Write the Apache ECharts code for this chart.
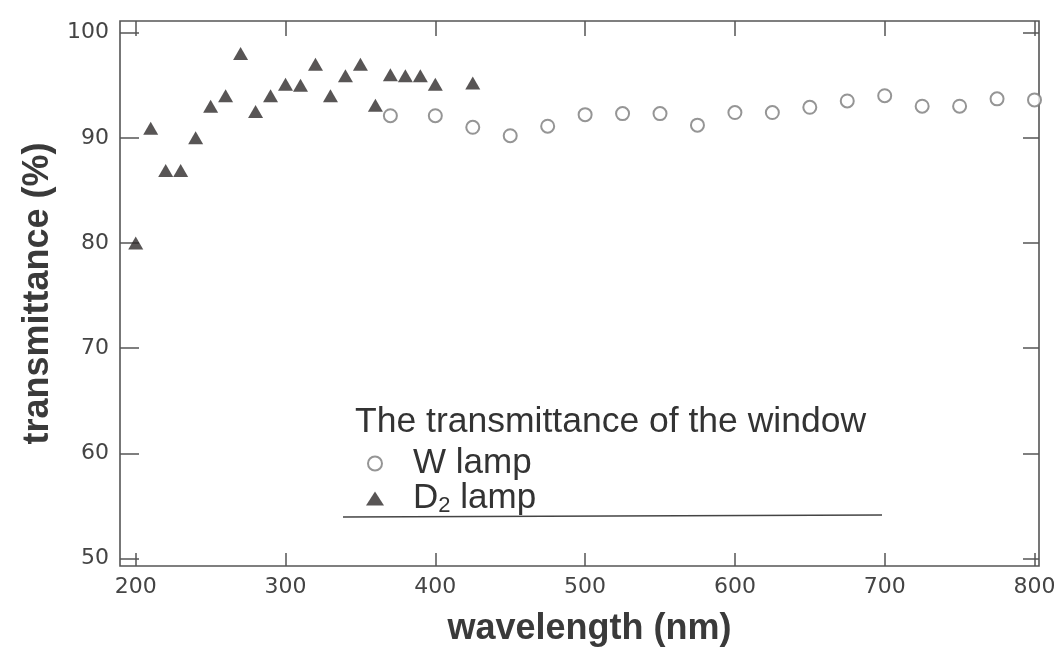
<!DOCTYPE html>
<html>
<head>
<meta charset="utf-8">
<script src="https://cdn.jsdelivr.net/npm/echarts@6/dist/echarts.min.js"></script>
<style>
  html, body { margin: 0; padding: 0; background: #ffffff; }
  #chart { width: 1060px; height: 654px; }
</style>
</head>
<body>
<div id="chart"></div>
<script>
// Tick values
const xTicks = [200, 300, 400, 500, 600, 700, 800];
const yTicks = [50, 60, 70, 80, 90, 100];

// W lamp (open circles)
const wWavelength = [370, 400, 425, 450, 475, 500, 525, 550, 575, 600, 625, 650, 675, 700, 725, 750, 775, 800];
const wTransmittance = [92.1, 92.1, 91.0, 90.2, 91.1, 92.2, 92.3, 92.3, 91.2, 92.4, 92.4, 92.9, 93.5, 94.0, 93.0, 93.0, 93.7, 93.6];

// D2 lamp (filled triangles)
const dWavelength = [200, 210, 220, 230, 240, 250, 260, 270, 280, 290, 300, 310, 320, 330, 340, 350, 360, 370, 380, 390, 400, 425];
const dTransmittance = [80.0, 90.9, 86.9, 86.9, 90.0, 93.0, 94.0, 98.0, 92.5, 94.0, 95.1, 95.0, 97.0, 94.0, 95.9, 97.0, 93.1, 96.0, 95.9, 95.9, 95.1, 95.2];

const legendTitle = 'The transmittance of the window';

const wData = wWavelength.map((x, i) => [x, wTransmittance[i]]);
const dData = dWavelength.map((x, i) => [x, dTransmittance[i]]);

const axisColor = '#555';
const textColor = '#444';

const chart = echarts.init(document.getElementById('chart'), null, { renderer: 'canvas' });

const xBase = {
  type: 'value', min: 189.5, max: 803,
  splitLine: { show: false },
  axisLine: { show: false }
};
const yBase = {
  type: 'value', min: 49.3, max: 101.1,
  splitLine: { show: false },
  axisLine: { show: false }
};

chart.setOption({
  backgroundColor: '#ffffff',
  animation: false,
  grid: {
    left: 120, right: 21, top: 21, bottom: 88,
    show: true, borderColor: axisColor, borderWidth: 1.6,
    backgroundColor: 'transparent',
    containLabel: false, outerBoundsMode: 'none'
  },
  xAxis: [
    Object.assign({}, xBase, {
      position: 'bottom',
      name: 'wavelength (nm)', nameLocation: 'middle', nameGap: 45,
      nameTextStyle: { fontFamily: 'Liberation Sans', fontWeight: 'bold', fontSize: 36, color: '#3a3a3a', padding: [0, 0, 0, 20] },
      axisTick: { show: true, inside: true, length: 13, customValues: xTicks, lineStyle: { color: axisColor, width: 1.5 } },
      axisLabel: { show: true, customValues: xTicks, margin: 10, fontFamily: 'DejaVu Sans', fontSize: 22, color: textColor }
    }),
    Object.assign({}, xBase, {
      position: 'top',
      axisTick: { show: true, inside: true, length: 15, customValues: xTicks, lineStyle: { color: axisColor, width: 1.5 } },
      axisLabel: { show: false }
    })
  ],
  yAxis: [
    Object.assign({}, yBase, {
      position: 'left',
      name: 'transmittance (%)', nameLocation: 'middle', nameGap: 60, nameRotate: 90,
      nameTextStyle: { fontFamily: 'Liberation Sans', fontWeight: 'bold', fontSize: 36, color: '#3a3a3a', padding: [0, 0, 0, 0] },
      axisTick: { show: true, inside: true, length: 19, customValues: yTicks, lineStyle: { color: axisColor, width: 1.5 } },
      axisLabel: { show: true, customValues: yTicks, margin: 11, fontFamily: 'DejaVu Sans', fontSize: 22, color: textColor }
    }),
    Object.assign({}, yBase, {
      position: 'right',
      axisTick: { show: true, inside: true, length: 16, customValues: yTicks, lineStyle: { color: axisColor, width: 1.5 } },
      axisLabel: { show: false }
    })
  ],
  legend: {
    orient: 'vertical', left: 366, top: 446, padding: 0,
    itemWidth: 18, itemHeight: 14, itemGap: 0,
    selectedMode: false,
    data: ['W lamp', 'D2 lamp'],
    formatter: function (name) {
      return name === 'D2 lamp' ? '{a|D}{s|2}{a| lamp}' : '{a|W lamp}';
    },
    textStyle: {
      color: '#333', padding: [0, 0, 0, 24],
      rich: {
        a: { fontFamily: 'Liberation Sans', fontSize: 35, lineHeight: 36, color: '#333' },
        s: { fontFamily: 'Liberation Sans', fontSize: 22, lineHeight: 16, verticalAlign: 'bottom', color: '#333' }
      }
    }
  },
  graphic: [
    {
      type: 'text', left: 355, top: 404, silent: true,
      style: { text: legendTitle, fontFamily: 'Liberation Sans', fontSize: 35.5, fill: '#333' }
    },
    {
      type: 'line', silent: true,
      shape: { x1: 343, y1: 517, x2: 882, y2: 515 },
      style: { stroke: '#444', lineWidth: 1.6 }
    }
  ],
  series: [
    {
      name: 'W lamp', type: 'scatter', xAxisIndex: 0, yAxisIndex: 0,
      symbol: 'emptyCircle', symbolSize: 13,
      itemStyle: { color: '#7a7a7a', borderWidth: 1.6 },
      data: wData
    },
    {
      name: 'D2 lamp', type: 'scatter', xAxisIndex: 0, yAxisIndex: 0,
      symbol: 'triangle', symbolSize: [15, 13],
      itemStyle: { color: '#2e2a2a' },
      data: dData
    }
  ]
});
</script>
</body>
</html>
